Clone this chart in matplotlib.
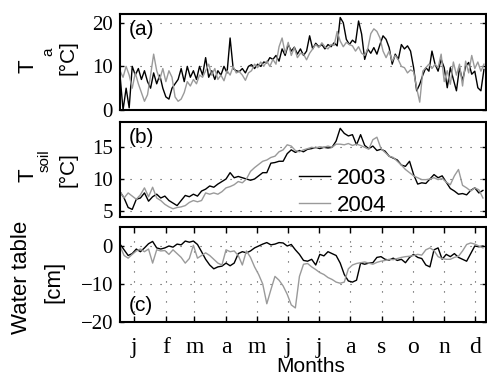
"""Air temperature, soil temperature and water table, 2003 vs 2004."""

import matplotlib
matplotlib.use("Agg")
import matplotlib.pyplot as plt
import numpy as np

# sample days (day of year)
DAYS_TA = np.arange(1, 359, 3)
DAYS_SOIL = np.arange(1, 358, 4)
DAYS_WT = np.arange(1, 358, 4)

TA_2003 = [
    8, 0, 5, 0.5, 10, 8, 9.5, 7, 9, 6.5, 5, 8.5, 6, 8, 5, 3, 2.5, 5, 6, 7,
    9.5, 6.5, 10, 7.5, 9, 7, 10, 8, 12, 7.5, 9, 7, 9, 8, 10, 8.5, 16.5, 9.5, 9, 8.8,
    9.5, 8.5, 10, 10.4, 9.5, 10.5, 10, 11, 10.8, 12,
    11.6, 12.5, 11.2, 14, 12.5, 15, 13.5, 14.4, 12.8, 14,
    12.5, 13.5, 17, 14, 15.3, 14.5, 15, 14, 15, 14.5,
    15.4, 14.7, 21.2, 20, 16.2, 15, 16, 15.4, 20.4, 17.4,
    11.6, 14, 13, 14.3, 12.8, 15, 17, 16.2, 14.3, 10.5,
    12.8, 11.6, 15, 14, 14.7, 13.5, 9.7, 4.4, 5.9, 8,
    9.7, 8.9, 13.5, 10.5, 8.9, 11.6, 9.7, 5.1, 9.7, 7,
    4.4, 9.7, 6.7, 10, 10.9, 8.2, 8.9, 5.1, 4.4, 9.3,
]
TA_2004 = [
    9, 7.5, 10, 8, 5, 8.5, 6, 4, 2, 3.5,
    8, 12.8, 9, 7, 9.5, 6.5, 9, 7.5, 3, 2,
    2.5, 4, 6.5, 5.5, 7, 6, 8, 7.5, 9, 10.5,
    8, 9.5, 7, 8, 6.7, 9, 8, 10, 8.5, 8.8,
    8, 6.8, 8.5, 9, 10.5, 9.7, 11, 10, 11.2, 10,
    11.6, 10.5, 14.5, 16.5, 13, 15.5, 12.5, 14.3, 12, 13,
    12.8, 11.5, 13, 14, 15, 14.3, 15.4, 14.5, 14, 15,
    14.8, 18, 15.8, 14.5, 15.5, 15, 14.7, 13.5, 14.5, 13,
    12.5, 14, 17.5, 18.6, 18, 16.5, 13.5, 12, 13.5, 11.2,
    12.5, 11.5, 10, 9.7, 8.5, 9.2, 8.8, 5, 1.8, 8.9,
    9.7, 10.5, 9.5, 10.5, 9.7, 12.8, 6.5, 9, 5.9, 11,
    8, 10.5, 5.5, 11.2, 8.5, 12.5, 9.5, 11, 8.9, 10.5,
]

TSOIL_2003 = [
    8.0, 7.0, 5.5, 5.2, 6.8, 7.0, 7.8, 6.5, 7.2, 7.6,
    7.0, 7.3, 6.6, 6.2, 5.8, 6.6, 7.4, 7.2, 7.6, 7.3,
    8.1, 8.4, 8.9, 8.7, 9.2, 9.6, 10.0, 11.0, 10.2, 10.4,
    10.2, 10.0, 9.8, 10.0, 10.5, 11.0, 11.0, 12.5, 12.6, 12.8,
    12.8, 14.0, 14.6, 14.2, 14.5, 14.3, 14.7, 14.8, 15.0, 14.8,
    15.0, 14.9, 15.0, 16.0, 18.0, 17.2, 16.8, 17.0, 15.4, 17.0,
    15.3, 14.8, 15.2, 14.5, 14.7, 14.4, 13.6, 13.3, 13.0, 12.2,
    12.0, 12.8, 10.7, 9.2, 9.4, 9.3, 10.0, 10.7, 10.2, 10.5,
    9.5, 8.5, 8.1, 7.6, 7.7, 7.5, 8.2, 8.6, 7.8, 8.2,
]
TSOIL_2004 = [
    8.0, 7.0, 7.8, 7.3, 6.8, 7.5, 8.6, 7.2, 8.7, 7.0,
    6.6, 6.0, 5.6, 5.3, 5.5, 5.6, 5.8, 6.3, 6.6, 6.4,
    6.6, 7.8, 7.6, 7.8, 7.6, 8.0, 8.6, 8.8, 9.1, 9.6,
    9.4, 10.0, 11.2, 11.8, 12.3, 12.8, 13.0, 13.4, 13.6, 14.3,
    14.6, 15.4, 15.2, 14.5, 14.3, 14.6, 14.8, 15.0, 14.9, 15.1,
    15.0, 15.2, 15.0, 15.5, 15.5, 15.4, 15.6, 15.3, 15.5, 15.3,
    15.0, 14.7, 16.2, 16.6, 14.8, 14.2, 13.6, 13.4, 12.8, 12.2,
    11.5, 11.0, 10.5, 10.2, 9.9, 9.9, 10.0, 10.2, 9.9, 10.1,
    9.5, 9.1, 10.5, 11.5, 9.0, 8.6, 8.1, 8.6, 8.3, 7.0,
]

WT_2003 = [
    0.5, -1.0, -2.5, -2.0, -0.8, -1.5, -0.5, 0.6, 1.2, -0.5,
    -0.8, -0.5, 0.0, -0.3, 0.5, 0.3, 1.3, 1.0, 1.3, 0.4,
    -1.5, -3.5, -5.0, -6.0, -5.5, -5.3, -4.5, -5.2, -4.5, -2.0,
    -1.5, -1.8, -1.3, -0.5, 0.0, 0.5, 0.9, 0.3, 0.5, 0.9,
    0.8, 0.0, 0.4, -1.0, -2.2, -3.8, -4.0, -3.5, -5.0, -2.2,
    -2.6, -1.5, -2.0, -2.5, -4.5, -7.5, -9.2, -9.5, -9.0, -4.5,
    -4.8, -4.5, -4.4, -3.0, -2.8, -3.5, -3.7, -3.2, -3.8, -3.5,
    -4.4, -3.0, -2.2, -3.0, -3.3, -5.0, -5.5, -1.0, -0.5, -3.5,
    -2.2, -2.8, -2.0, -3.0, -3.5, -4.0, -2.0, 0.0, -0.2, 0.0,
]
WT_2004 = [
    0.0, -2.5, -3.2, -2.2, -1.3, -0.8, -1.5, -0.8, -4.5, -1.0,
    -1.3, -1.2, -2.2, -1.0, -2.0, -3.0, -4.5, -3.3, 0.2, -3.2,
    -2.5, -1.8, -2.5, -3.5, -4.5, -5.0, -1.0, -1.5, -1.3, -2.5,
    -5.0, -1.3, -3.0, -5.5, -7.5, -10.0, -15.2, -11.5, -8.0, -9.0,
    -10.5, -12.7, -15.5, -16.3, -8.0, -4.8, -4.6, -5.5, -6.2, -7.0,
    -7.5, -8.3, -8.8, -9.5, -9.8, -9.5, -6.0, -5.0, -4.6, -4.4,
    -4.2, -4.5, -4.8, -4.3, -4.0, -3.8, -3.5, -3.6, -3.3, -3.0,
    -2.8, -2.7, -2.5, -2.2, -2.4, -1.0, -0.5, -1.2, -2.8, -3.3,
    -3.5, -3.5, -3.0, -2.7, -1.3, 0.4, 0.8, 0.5, 0.0, -0.5,
]

MONTH_MID = [15, 46, 74, 105, 135, 166, 196, 227, 258, 288, 319, 349]
MONTH_LABELS = ["j", "f", "m", "a", "m", "j", "j", "a", "s", "o", "n", "d"]

C03 = "black"
C04 = "#9a9a9a"
SERIF = "Liberation Serif"
SANS = "Liberation Sans"


def style_axes(ax, yticks, ylim, xgrid=False):
    ax.set_xlim(1, 360)
    ax.set_ylim(*ylim)
    ax.set_yticks(yticks)
    ax.set_yticklabels([f"{t:g}".replace("-", "\u2212") for t in yticks],
                       fontfamily=SERIF, fontsize=15)
    for s in ax.spines.values():
        s.set_linewidth(1.5)
    ax.tick_params(axis="y", direction="in", length=3, width=1, pad=5,
                   left=True, right=True)
    for t in yticks:
        if ylim[0] < t < ylim[1]:
            ax.axhline(t, color="#444444", lw=0.8, ls=(0, (1, 8)), zorder=0)
    if xgrid:
        ax.set_xticks(MONTH_MID)
        ax.set_xticklabels(MONTH_LABELS, fontfamily=SERIF, fontsize=17)
        ax.tick_params(axis="x", direction="in", length=4, width=1, pad=11,
                       top=True, bottom=True)
        for d in MONTH_MID:
            ax.axvline(d, color="#444444", lw=0.8, ls=(0, (1, 8)), zorder=0)
    else:
        ax.set_xticks([])


def main():
    fig = plt.figure(figsize=(4.87, 3.79), dpi=100)
    W, H = 487, 379
    left, width = 120 / W, 366 / W
    ax1 = fig.add_axes([left, 1 - 110 / H, width, 96 / H])
    ax2 = fig.add_axes([left, 1 - 217 / H, width, 95 / H])
    ax3 = fig.add_axes([left, 1 - 322 / H, width, 95 / H])

    # (a) air temperature
    ax1.plot(DAYS_TA, TA_2003, color=C03, lw=1.0)
    ax1.plot(DAYS_TA, TA_2004, color=C04, lw=1.0)
    style_axes(ax1, [0, 10, 20], (0, 22))
    ax1.text(0.025, 0.94, "(a)", transform=ax1.transAxes, ha="left", va="top",
             fontfamily=SANS, fontsize=15)

    # (b) soil temperature
    ax2.plot(DAYS_SOIL, TSOIL_2003, color=C03, lw=1.0, label="2003")
    ax2.plot(DAYS_SOIL, TSOIL_2004, color=C04, lw=1.0, label="2004")
    style_axes(ax2, [5, 10, 15], (4, 19))
    ax2.text(0.025, 0.94, "(b)", transform=ax2.transAxes, ha="left", va="top",
             fontfamily=SANS, fontsize=15)
    ax2.legend(loc="upper left", bbox_to_anchor=(0.49, 0.52), frameon=False,
               prop={"family": SANS, "size": 16}, handlelength=1.4,
               handletextpad=0.3, labelspacing=0.3, borderpad=0.0,
               borderaxespad=0.0)

    # (c) water table
    ax3.plot(DAYS_WT, WT_2003, color=C03, lw=1.0)
    ax3.plot(DAYS_WT, WT_2004, color=C04, lw=1.0)
    style_axes(ax3, [-20, -10, 0], (-20, 5), xgrid=True)
    ax3.text(0.025, 0.07, "(c)", transform=ax3.transAxes, ha="left", va="bottom",
             fontfamily=SANS, fontsize=15)
    ax3.set_xlabel("Months", fontfamily=SANS, fontsize=15)
    ax3.xaxis.set_label_coords(0.52, -0.37)

    # y labels, placed by hand in pixel coordinates
    def ftext(x, y, s, size):
        fig.text(x / W, 1 - y / H, s, rotation=90, ha="center", va="center",
                 fontfamily=SANS, fontsize=size)

    ftext(28, 66, "T", 16)
    ftext(48, 52, "a", 11)
    ftext(68, 58, "[\u00b0C]", 15)
    ftext(28, 175, "T", 16)
    ftext(45, 161, "soil", 11)
    ftext(68, 170, "[\u00b0C]", 15)
    ftext(22, 277, "Water table", 16)
    ftext(54, 282, "[cm]", 16)

    fig.savefig("out.png", dpi=100)
    plt.close(fig)


if __name__ == "__main__":
    main()
